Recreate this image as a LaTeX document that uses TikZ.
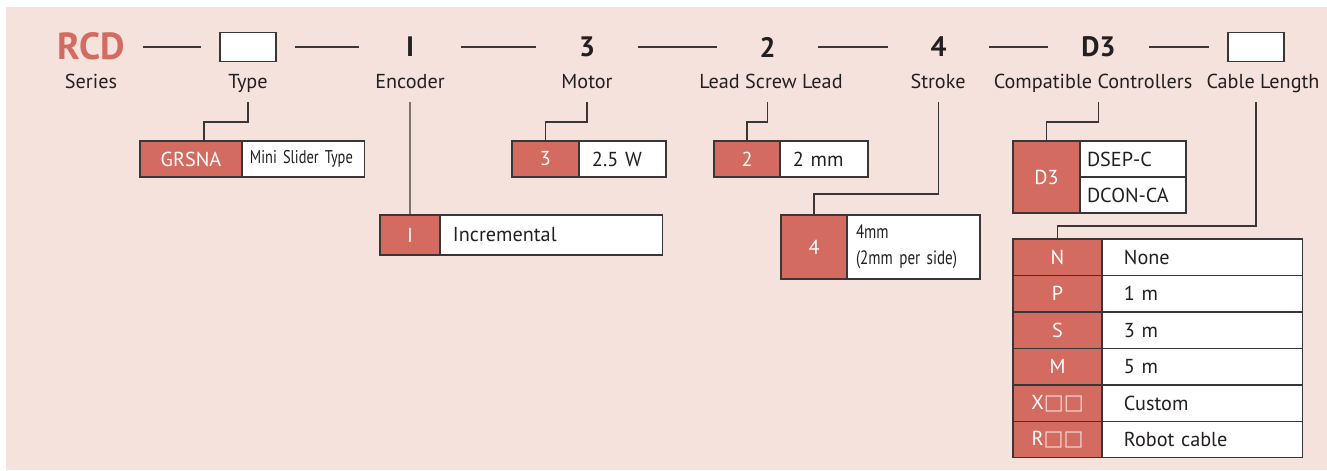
\documentclass[tikz,border=0pt]{standalone}
\usepackage{fontspec}
\setmainfont{PT Sans}
\newfontfamily\narrowfont[FakeStretch=0.78]{PT Sans}
\newfontfamily\symfont{DejaVu Sans}
\usepackage{tikz}
\usetikzlibrary{positioning}
\usepackage{xcolor}

\definecolor{bgpink}{HTML}{F6E2DD}
\definecolor{keyred}{HTML}{D36B61}
\definecolor{ink}{HTML}{231F20}
\definecolor{rulegray}{HTML}{3A3536}

% empty code square, in white
\newcommand{\codebox}{{\symfont\fontsize{12}{12}\selectfont\color{white!75!keyred}□□}}

\begin{document}
\begin{tikzpicture}[
    x=0.02cm, y=-0.02cm,
    font=\fontsize{11.5}{13}\selectfont, text=ink,
    code/.style={inner sep=0pt, minimum width=1.3cm, font=\fontsize{16}{18}\selectfont\bfseries},
    blank/.style={draw=rulegray, fill=white, line width=0.7pt, minimum width=1.12cm, minimum height=0.58cm, inner sep=0pt},
    part/.style={anchor=base},
    link/.style={draw=rulegray, line width=0.8pt, shorten <=0.36cm, shorten >=0.36cm},
    lead/.style={draw=rulegray, line width=0.6pt},
    key/.style={draw=rulegray, fill=keyred, text=white, line width=0.6pt, inner sep=0pt, outer sep=0pt, minimum height=0.72cm},
    val/.style={draw=rulegray, fill=white, line width=0.6pt, inner ysep=0pt, outer sep=0pt, align=left, minimum height=0.72cm}
]

% background panel
\useasboundingbox (0,0) rectangle (1327,470);
\fill[bgpink] (6,7) rectangle (1327,470);

% Model code line
\node[code, text=keyred, minimum width=0pt, font=\fontsize{21.5}{24}\selectfont\bfseries] (rcd) at (91,46) {RCD};
\node[blank] (type) at (248,47) {};
\node[code] (enc) at (410,47) {I};
\node[code] (mot) at (587,47) {3};
\node[code] (lead) at (767.5,47) {2};
\node[code] (str) at (938.5,47) {4};
\node[code] (ctl) at (1098.5,47) {D3};
\node[blank] (cab) at (1256,47) {};

\draw[link] (rcd.east |- type) -- (type);
\draw[link] (type) -- (enc);
\draw[link] (enc) -- (mot);
\draw[link] (mot) -- (lead);
\draw[link] (lead) -- (str);
\draw[link] (str) -- (ctl);
\draw[link] (ctl) -- (cab);

% Item names
\node[part] (lbl-ser) at (91,88) {Series};
\node[part] (lbl-typ) at (248,88) {Type};
\node[part] (lbl-enc) at (410,88) {Encoder};
\node[part] (lbl-mot) at (587,88) {Motor};
\node[part] (lbl-lead) at (771,88) {Lead Screw Lead};
\node[part] (lbl-str) at (938,88) {Stroke};
\node[part] (lbl-ctl) at (1093,88) {Compatible Controllers};
\node[part] (lbl-cab) at (1263,88) {Cable Length};

% Option tables
\node[key, anchor=west, minimum width=2.04cm] (grsna-k) at (140,159) {GRSNA};
\node[val, right=0pt of grsna-k, text width=2.14cm, inner xsep=0.16cm, font=\narrowfont\fontsize{10.5}{12}\selectfont] (grsna-v) {Mini Slider Type};

\node[key, anchor=west, minimum width=1.2cm, minimum height=0.8cm] (enc-k) at (380,235) {I};
\node[val, right=0pt of enc-k, text width=3.94cm, inner xsep=0.26cm, minimum height=0.8cm] (enc-v) {Incremental};

\node[key, anchor=west, minimum width=1.34cm] (mot-k) at (512,159) {3};
\node[val, right=0pt of mot-k, text width=1.22cm, inner xsep=0.26cm] (mot-v) {2.5 W};

\node[key, anchor=west, minimum width=1.32cm] (lead-k) at (714,159) {2};
\node[val, right=0pt of lead-k, text width=1.24cm, inner xsep=0.26cm] (lead-v) {2 mm};

\node[key, anchor=west, minimum width=1.32cm, minimum height=1.28cm] (str-k) at (781,247) {4};
\node[val, right=0pt of str-k, text width=2.3cm, inner xsep=0.18cm, minimum height=1.28cm, font=\narrowfont\fontsize{11}{14.7}\selectfont] (str-v) {4mm\\(2mm per side)};

\node[key, anchor=west, minimum width=1.34cm, minimum height=1.44cm] (ctl-k) at (1013,177) {D3};
\node[val, anchor=north west, text width=1.84cm, inner xsep=0.14cm] (ctl-v1) at (ctl-k.north east) {DSEP-C};
\node[val, below=0pt of ctl-v1, text width=1.84cm, inner xsep=0.14cm] (ctl-v2) {DCON-CA};

% Cable length table
\node[key, anchor=west, minimum width=1.78cm, minimum height=0.73cm] (cab-n) at (1013,257.25) {N};
\node[key, below=0pt of cab-n, minimum width=1.78cm, minimum height=0.73cm] (cab-p) {P};
\node[key, below=0pt of cab-p, minimum width=1.78cm, minimum height=0.73cm] (cab-s) {S};
\node[key, below=0pt of cab-s, minimum width=1.78cm, minimum height=0.73cm] (cab-m) {M};
\node[key, below=0pt of cab-m, minimum width=1.78cm, minimum height=0.73cm] (cab-x) {X\codebox};
\node[key, below=0pt of cab-x, minimum width=1.78cm, minimum height=0.73cm] (cab-r) {R\codebox};
\node[val, right=0pt of cab-n, text width=3.14cm, inner xsep=0.44cm, minimum height=0.73cm] (cab-nv) {None};
\node[val, right=0pt of cab-p, text width=3.14cm, inner xsep=0.44cm, minimum height=0.73cm] (cab-pv) {1 m};
\node[val, right=0pt of cab-s, text width=3.14cm, inner xsep=0.44cm, minimum height=0.73cm] (cab-sv) {3 m};
\node[val, right=0pt of cab-m, text width=3.14cm, inner xsep=0.44cm, minimum height=0.73cm] (cab-mv) {5 m};
\node[val, right=0pt of cab-x, text width=3.14cm, inner xsep=0.44cm, minimum height=0.73cm] (cab-xv) {Custom};
\node[val, right=0pt of cab-r, text width=3.14cm, inner xsep=0.44cm, minimum height=0.73cm] (cab-rv) {Robot cable};

% Leaders from item names down to their tables
\draw[lead] (type |- lbl-typ.base) ++(0,14) -- ++(0,20) -| ([xshift=0.26cm]grsna-k.north);
\draw[lead] (enc |- lbl-enc.base) ++(0,14) -- (enc-k.north);
\draw[lead] (mot |- lbl-mot.base) ++(0,14) -- ++(0,20) -| (mot-k.north);
\draw[lead] (lead |- lbl-lead.base) ++(0,14) -- ++(0,20) -| (lead-k.north);
\draw[lead] (str |- lbl-str.base) ++(0,14) -- ++(0,92) -| (str-k.north);
\draw[lead] (ctl |- lbl-ctl.base) ++(0,14) -- ++(0,20) -| (ctl-k.north);
\draw[lead] (cab |- lbl-cab.base) ++(0,14) -- ++(0,124) -| (cab-n.north);

\end{tikzpicture}
\end{document}
